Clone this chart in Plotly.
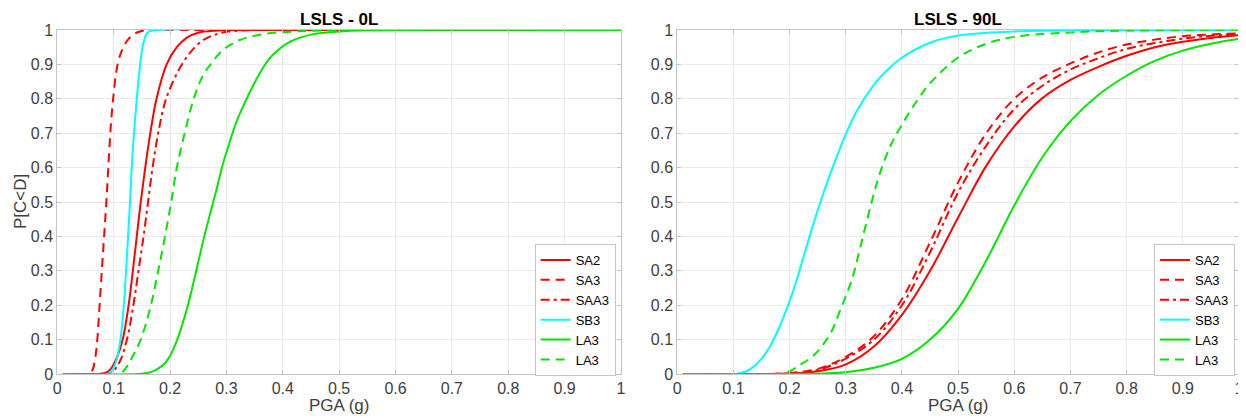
import plotly.graph_objects as go

# ---------------- data ----------------
# Left panel: LSLS - 0L
sa2_0L_x = [0.01, 0.07, 0.085, 0.095, 0.105, 0.116, 0.1265, 0.134, 0.141, 0.148, 0.156, 0.165, 0.176, 0.194, 0.212, 0.23, 0.25, 0.28, 0.32, 1.0]
sa2_0L_y = [0, 0, 0.003, 0.015, 0.045, 0.1, 0.2, 0.3, 0.4, 0.5, 0.6, 0.7, 0.8, 0.9, 0.95, 0.978, 0.992, 0.998, 1, 1]

sa3_0L_x = [0.01, 0.055, 0.062, 0.0676, 0.071, 0.075, 0.079, 0.083, 0.087, 0.0905, 0.094, 0.099, 0.107, 0.117, 0.127, 0.138, 0.15, 0.165, 0.2, 1.0]
sa3_0L_y = [0, 0, 0.01, 0.05, 0.1, 0.2, 0.3, 0.4, 0.5, 0.6, 0.7, 0.8, 0.9, 0.95, 0.975, 0.99, 0.997, 1, 1, 1]

saa3_0L_x = [0.01, 0.085, 0.1, 0.112, 0.1235, 0.135, 0.144, 0.153, 0.161, 0.169, 0.179, 0.193, 0.221, 0.244, 0.259, 0.276, 0.294, 0.32, 0.36, 1.0]
saa3_0L_y = [0, 0, 0.01, 0.04, 0.1, 0.2, 0.3, 0.4, 0.5, 0.6, 0.7, 0.8, 0.9, 0.95, 0.971, 0.984, 0.993, 0.998, 1, 1]

sb3_0L_x = [0.01, 0.09, 0.097, 0.105, 0.112, 0.118, 0.122, 0.1255, 0.129, 0.132, 0.136, 0.141, 0.147, 0.151, 0.155, 0.159, 0.165, 0.175, 1.0]
sb3_0L_y = [0, 0, 0.01, 0.04, 0.1, 0.2, 0.3, 0.4, 0.5, 0.6, 0.7, 0.8, 0.9, 0.95, 0.975, 0.99, 0.997, 1, 1]

la3_0L_x = [0.01, 0.145, 0.16, 0.175, 0.19, 0.2, 0.21, 0.22, 0.23, 0.24, 0.25, 0.26, 0.271, 0.283, 0.294, 0.306, 0.318, 0.333, 0.348, 0.362, 0.377, 0.395, 0.413, 0.435, 0.454, 0.495, 0.55, 1.0]
la3_0L_y = [0, 0, 0.003, 0.012, 0.03, 0.053, 0.088, 0.135, 0.19, 0.255, 0.325, 0.395, 0.465, 0.54, 0.612, 0.675, 0.734, 0.79, 0.84, 0.882, 0.918, 0.946, 0.966, 0.98, 0.988, 0.995, 0.999, 1]

la3d_0L_x = [0.01, 0.11, 0.118, 0.13, 0.148, 0.166, 0.179, 0.191, 0.202, 0.212, 0.226, 0.242, 0.259, 0.271, 0.294, 0.324, 0.365, 0.413, 0.5, 1.0]
la3d_0L_y = [0, 0, 0.01, 0.04, 0.1, 0.2, 0.3, 0.4, 0.5, 0.6, 0.7, 0.8, 0.87, 0.898, 0.942, 0.971, 0.988, 0.995, 1, 1]

# Right panel: LSLS - 90L
sa2_90L_x = [0.01, 0.18, 0.25, 0.3, 0.35, 0.4, 0.45, 0.5, 0.55, 0.6, 0.65, 0.7, 0.75, 0.8, 0.85, 0.9, 0.95, 1.0]
sa2_90L_y = [0, 0, 0.008, 0.028, 0.08, 0.172, 0.3, 0.455, 0.605, 0.72, 0.802, 0.855, 0.893, 0.925, 0.95, 0.966, 0.977, 0.985]

sa3_90L_x = [0.01, 0.15, 0.2, 0.25, 0.3, 0.35, 0.4, 0.45, 0.5, 0.55, 0.6, 0.65, 0.7, 0.75, 0.8, 0.85, 0.9, 0.95, 1.0]
sa3_90L_y = [0, 0, 0.003, 0.015, 0.05, 0.11, 0.218, 0.383, 0.557, 0.70, 0.80, 0.862, 0.903, 0.935, 0.958, 0.972, 0.982, 0.987, 0.99]

saa3_90L_x = [0.01, 0.15, 0.2, 0.25, 0.3, 0.35, 0.4, 0.45, 0.5, 0.55, 0.6, 0.65, 0.7, 0.75, 0.8, 0.85, 0.9, 0.95, 1.0]
saa3_90L_y = [0, 0, 0.002, 0.012, 0.045, 0.1, 0.2, 0.354, 0.528, 0.664, 0.77, 0.838, 0.885, 0.918, 0.945, 0.962, 0.975, 0.983, 0.988]

sb3_90L_x = [0.01, 0.1, 0.12, 0.135, 0.15, 0.165, 0.18, 0.195, 0.21, 0.23, 0.254, 0.287, 0.318, 0.352, 0.375, 0.4, 0.45, 0.5, 0.6, 0.7, 0.8, 1.0]
sb3_90L_y = [0, 0, 0.006, 0.02, 0.045, 0.08, 0.13, 0.19, 0.26, 0.37, 0.496, 0.645, 0.76, 0.845, 0.885, 0.92, 0.963, 0.984, 0.996, 0.999, 1, 1]

la3_90L_x = [0.01, 0.2, 0.3, 0.35, 0.4, 0.45, 0.5, 0.55, 0.6, 0.65, 0.7, 0.75, 0.8, 0.85, 0.9, 0.95, 1.0]
la3_90L_y = [0, 0, 0.005, 0.018, 0.044, 0.1, 0.19, 0.33, 0.49, 0.63, 0.735, 0.812, 0.867, 0.91, 0.94, 0.96, 0.974]

la3d_90L_x = [0.01, 0.18, 0.2, 0.222, 0.24, 0.257, 0.275, 0.291, 0.31, 0.326, 0.346, 0.36, 0.38, 0.4, 0.425, 0.45, 0.5, 0.55, 0.6, 0.7, 0.8, 1.0]
la3d_90L_y = [0, 0, 0.008, 0.03, 0.05, 0.08, 0.125, 0.19, 0.27, 0.37, 0.5, 0.58, 0.665, 0.725, 0.79, 0.845, 0.92, 0.96, 0.98, 0.993, 0.998, 1]

series_names = ["SA2", "SA3", "SAA3", "SB3", "LA3", "LA3"]
panel_titles = ["LSLS - 0L", "LSLS - 90L"]
tick_vals = [0, 0.1, 0.2, 0.3, 0.4, 0.5, 0.6, 0.7, 0.8, 0.9, 1]
tick_text = ["0", "0.1", "0.2", "0.3", "0.4", "0.5", "0.6", "0.7", "0.8", "0.9", "1"]

# ---------------- styling ----------------
RED = "#ff0000"
CYAN = "#00ffff"
GREEN = "#00e600"
DASH = "9px,6px"
DASHDOT = "9px,4px,3px,4px"
styles = [(RED, "solid"), (RED, DASH), (RED, DASHDOT), (CYAN, "solid"), (GREEN, "solid"), (GREEN, DASH)]

left = [(sa2_0L_x, sa2_0L_y), (sa3_0L_x, sa3_0L_y), (saa3_0L_x, saa3_0L_y),
        (sb3_0L_x, sb3_0L_y), (la3_0L_x, la3_0L_y), (la3d_0L_x, la3d_0L_y)]
right = [(sa2_90L_x, sa2_90L_y), (sa3_90L_x, sa3_90L_y), (saa3_90L_x, saa3_90L_y),
         (sb3_90L_x, sb3_90L_y), (la3_90L_x, la3_90L_y), (la3d_90L_x, la3d_90L_y)]

fig = go.Figure()
for (xs, ys), name, (col, dash) in zip(left, series_names, styles):
    fig.add_trace(go.Scatter(x=xs, y=ys, mode="lines", name=name,
                             line=dict(color=col, width=2, dash=dash, shape="spline", smoothing=1.0),
                             xaxis="x", yaxis="y", legend="legend"))
for (xs, ys), name, (col, dash) in zip(right, series_names, styles):
    fig.add_trace(go.Scatter(x=xs, y=ys, mode="lines", name=name,
                             line=dict(color=col, width=2, dash=dash, shape="spline", smoothing=1.0),
                             xaxis="x2", yaxis="y2", legend="legend2"))

# page body adds an 8px offset; figure is sized so that it fits the 1246x418 window
OFF = 8
W, H = 1246 - OFF, 418 - OFF


def px(xr):
    return (xr - OFF) / W


def py(yr):
    return 1 - (yr - OFF) / H


axL = (57.3, 621.0)
axR = (677.3, 1239.0)
axT, axB = 30.0, 374.0

FONT = "Liberation Sans, Arial, sans-serif"
tickfont = dict(family=FONT, size=16, color="#404040")
common_x = dict(range=[0, 1], tickvals=tick_vals, ticktext=tick_text, showgrid=True,
                gridcolor="#ebebeb", gridwidth=1, showline=True, linecolor="#c4c4c4",
                linewidth=1, mirror="ticks", ticks="inside", ticklen=4, tickcolor="#c4c4c4",
                tickfont=tickfont, zeroline=False, fixedrange=True, automargin=False)
common_y = dict(common_x)

legend_common = dict(bgcolor="white", bordercolor="#c4c4c4", borderwidth=1,
                     font=dict(family=FONT, size=13, color="black"),
                     itemwidth=30, tracegroupgap=0, yanchor="top", xanchor="right")

fig.update_layout(
    template="none",
    width=W, height=H,
    margin=dict(l=0, r=0, t=0, b=0, pad=0, autoexpand=False),
    paper_bgcolor="white", plot_bgcolor="white",
    xaxis=dict(common_x, domain=[px(axL[0]), px(axL[1])], anchor="y"),
    yaxis=dict(common_y, domain=[py(axB), py(axT)], anchor="x"),
    xaxis2=dict(common_x, domain=[px(axR[0]), px(axR[1])], anchor="y2"),
    yaxis2=dict(common_y, domain=[py(axB), py(axT)], anchor="x2"),
    legend=dict(legend_common, x=px(615.7), y=py(244)),
    legend2=dict(legend_common, x=px(1235.0), y=py(244)),
    showlegend=True,
)

lblfont = dict(family=FONT, size=17, color="#404040")
titlefont = dict(family=FONT, size=17, color="black")
for (a, b), title in zip([axL, axR], panel_titles):
    cx = px((a + b) / 2)
    fig.add_annotation(x=cx, y=py(19), xref="paper", yref="paper", text="<b>" + title + "</b>",
                       showarrow=False, font=titlefont, xanchor="center", yanchor="middle")
    fig.add_annotation(x=cx, y=py(405), xref="paper", yref="paper", text="PGA (g)",
                       showarrow=False, font=lblfont, xanchor="center", yanchor="middle")
fig.add_annotation(x=px(20), y=py(202), xref="paper", yref="paper", text="P[C&lt;D]",
                   showarrow=False, font=lblfont, textangle=-90, xanchor="center", yanchor="middle")

fig.write_html("out.html")
